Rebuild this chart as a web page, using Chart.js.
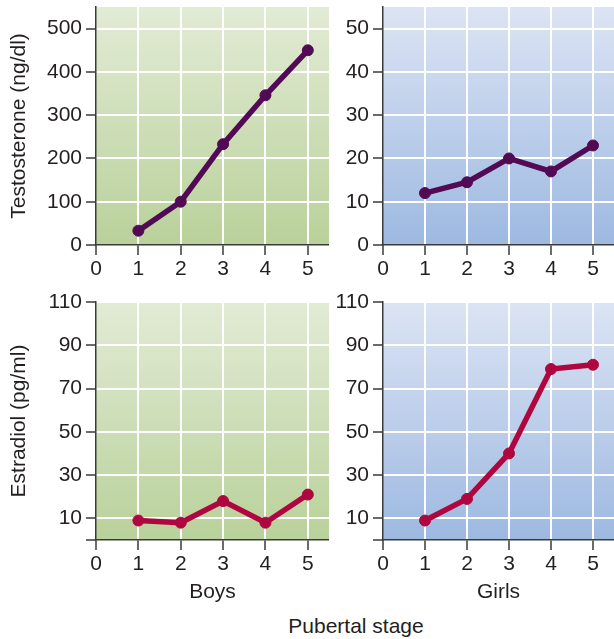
<!DOCTYPE html>
<html>
<head>
<meta charset="utf-8">
<script src="https://cdn.jsdelivr.net/npm/chart.js@4"></script>
<style>
  body { margin: 0; background: #fff; }
  #wrap { position: relative; width: 614px; height: 639px; overflow: hidden; }
  canvas { position: absolute; }
  #xTitle {
    position: absolute; left: 256px; top: 613px; width: 200px;
    text-align: center; font: 21px "Liberation Sans", Arial, sans-serif;
    color: #231f20; line-height: 25px;
  }
</style>
</head>
<body>
<div id="wrap">
  <canvas id="boysT" width="329" height="290" style="left:0;top:0"></canvas>
  <canvas id="girlsT" width="284" height="290" style="left:330px;top:0"></canvas>
  <canvas id="boysE" width="329" height="320" style="left:0;top:290px"></canvas>
  <canvas id="girlsE" width="284" height="320" style="left:330px;top:290px"></canvas>
  <div id="xTitle">Pubertal stage</div>
</div>
<script>
const stages = [1, 2, 3, 4, 5];
const stageTicks = [0, 1, 2, 3, 4, 5];
const boysTestosterone = [33, 100, 233, 346, 450];
const girlsTestosterone = [12, 14.5, 20, 17, 23];
const boysEstradiol = [9, 8, 18, 8, 21];
const girlsEstradiol = [9, 19, 40, 79, 81];
const boysTestoTicks = [0, 100, 200, 300, 400, 500];
const girlsTestoTicks = [0, 10, 20, 30, 40, 50];
const estradiolTicks = [0, 10, 30, 50, 70, 90, 110];

const textColor = "#231f20";
const axisColor = "#3a3a3a";
const purple = "#530a55";
const crimson = "#b0063f";

Chart.defaults.font.family = '"Liberation Sans", Arial, sans-serif';
Chart.defaults.color = textColor;

const greenBg = ["#e2ebd5", "#b9d19a"];
const blueBg = ["#dce4f4", "#9db9e1"];

const bgPlugin = {
    id: "panel_background",
    beforeDraw: (chart, args, opts) => {
        const { ctx, chartArea: a } = chart;
        const g = ctx.createLinearGradient(0, a.top, 0, a.bottom);
        g.addColorStop(0, opts.colors[0]);
        g.addColorStop(1, opts.colors[1]);
        ctx.save();
        ctx.fillStyle = g;
        ctx.fillRect(a.left, a.top, a.right - a.left, a.bottom - a.top);
        ctx.restore();
    }
};

// chart.js pads the area for edge labels, we want the plot boxes fixed
const noPadding = (scale) => {
    scale.paddingLeft = 0;
    scale.paddingRight = 0;
    scale.paddingTop = 0;
    scale.paddingBottom = 0;
};

const makePanel = (id, values, color, o) => {
    const points = stages.map((s, i) => ({ x: s, y: values[i] }));
    return new Chart(document.getElementById(id), {
        type: "line",
        plugins: [bgPlugin],
        data: {
            datasets: [{
                data: points,
                borderColor: color,
                backgroundColor: color,
                borderWidth: 5.5,
                pointRadius: 5.5,
                pointHoverRadius: 5.5,
                pointBorderWidth: 1,
                tension: 0,
                clip: false
            }]
        },
        options: {
            responsive: false,
            animation: false,
            events: [],
            layout: { autoPadding: false, padding: { top: o.top, left: 0, right: 0, bottom: 0 } },
            plugins: {
                legend: { display: false },
                tooltip: { enabled: false },
                panel_background: { colors: o.bg }
            },
            scales: {
                x: {
                    type: "linear",
                    min: 0,
                    max: 5.5,
                    afterBuildTicks: (scale) => { scale.ticks = stageTicks.map(v => ({ value: v })); },
                    afterFit: (scale) => { scale.height = o.xHeight; noPadding(scale); },
                    grid: {
                        color: (c) => c.tick && c.tick.value === 0 ? "rgba(0,0,0,0)" : "#ffffff",
                        lineWidth: 2,
                        tickColor: axisColor,
                        tickLength: 10,
                        tickWidth: 1.5
                    },
                    border: { color: axisColor, width: 1.5 },
                    ticks: { font: { size: 21 }, padding: 2, color: textColor },
                    title: {
                        display: !!o.xTitle,
                        text: o.xTitle || "",
                        font: { size: 21 },
                        color: textColor,
                        padding: { top: 0, bottom: 5 }
                    }
                },
                y: {
                    type: "linear",
                    min: 0,
                    max: o.yMax,
                    afterBuildTicks: (scale) => { scale.ticks = o.yTicks.map(v => ({ value: v })); },
                    afterFit: (scale) => { scale.width = o.yWidth; noPadding(scale); },
                    grid: {
                        color: (c) => c.tick && c.tick.value === 0 ? "rgba(0,0,0,0)" : "#ffffff",
                        lineWidth: 2,
                        tickColor: axisColor,
                        tickLength: 10,
                        tickWidth: 1.5
                    },
                    border: { color: axisColor, width: 1.5 },
                    ticks: {
                        font: { size: 21 },
                        padding: 4,
                        color: textColor,
                        callback: (v) => (o.hideZero && v === 0) ? "" : v
                    },
                    title: {
                        display: !!o.yTitle,
                        text: o.yTitle || "",
                        font: { size: 21 },
                        color: textColor,
                        padding: { top: 7, bottom: 0 }
                    }
                }
            }
        }
    });
};

makePanel("boysT", boysTestosterone, purple, {
    top: 7, xHeight: 45, yWidth: 96, yMax: 550, yTicks: boysTestoTicks,
    bg: greenBg, yTitle: "Testosterone (ng/dl)"
});
makePanel("girlsT", girlsTestosterone, purple, {
    top: 7, xHeight: 45, yWidth: 53, yMax: 55, yTicks: girlsTestoTicks,
    bg: blueBg
});
makePanel("boysE", boysEstradiol, crimson, {
    top: 12, xHeight: 70, yWidth: 96, yMax: 110, yTicks: estradiolTicks,
    bg: greenBg, yTitle: "Estradiol (pg/ml)", xTitle: "Boys", hideZero: true
});
makePanel("girlsE", girlsEstradiol, crimson, {
    top: 12, xHeight: 70, yWidth: 53, yMax: 110, yTicks: estradiolTicks,
    bg: blueBg, xTitle: "Girls", hideZero: true
});
</script>
</body>
</html>
